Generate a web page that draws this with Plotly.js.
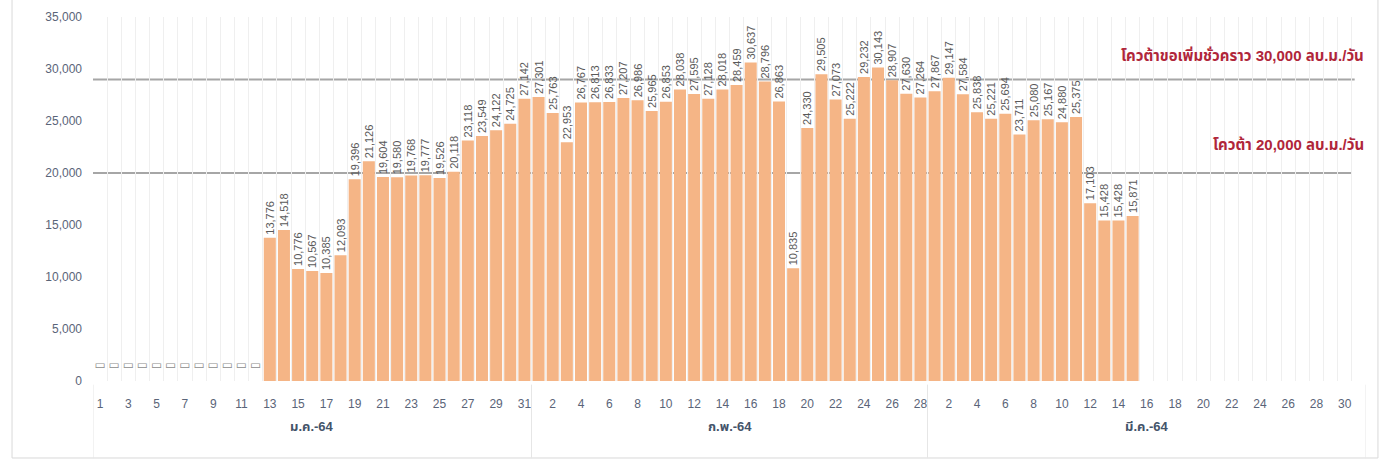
<!DOCTYPE html>
<html>
<head>
<meta charset="utf-8">
<script src="https://cdn.plot.ly/plotly-3.0.1.min.js"></script>
<style>html,body{margin:0;padding:0;background:#fff;}#chart{width:1383px;height:462px;}</style>
</head>
<body>
<div id="chart"></div>
<script>
// ---- data ----
const months = ['ม.ค.-64', 'ก.พ.-64', 'มี.ค.-64'];
const monthDays = [31, 28, 31];
const janValues = [null, null, null, null, null, null, null, null, null, null, null, null,
  13776, 14518, 10776, 10567, 10385, 12093, 19396, 21126, 19604, 19580, 19768, 19777,
  19526, 20118, 23118, 23549, 24122, 24725, 27142];
const febValues = [27301, 25763, 22953, 26767, 26813, 26833, 27207, 26986, 25965, 26853,
  28038, 27595, 27128, 28018, 28459, 30637, 28796, 26863, 10835, 24330, 29505, 27073,
  25222, 29232, 30143, 28907, 27630, 27264];
const marValues = [27867, 29147, 27584, 25838, 25221, 25694, 23711, 25080, 25167, 24880,
  25375, 17103, 15428, 15428, 15871, null, null, null, null, null, null, null, null, null,
  null, null, null, null, null, null, null];
const emptyDays = 12;            // ม.ค. 1-12 : no data (placeholder boxes)
const emptyMarkerValue = 1400;
const quotaTempValue = 29000;    // line drawn for "โควต้าขอเพิ่มชั่วคราว 30,000"
const quotaValue = 20000;
const quotaTempLabel = 'โควต้าขอเพิ่มชั่วคราว 30,000 ลบ.ม./วัน';
const quotaLabel = 'โควต้า 20,000 ลบ.ม./วัน';
const yTicks = [0, 5000, 10000, 15000, 20000, 25000, 30000, 35000];

// ---- build ----
const values = janValues.concat(febValues, marValues);
const x = [], dayLabels = [], tickText = [];
let idx = 0;
monthDays.forEach((n) => {
  for (let d = 1; d <= n; d++) {
    idx++;
    x.push(idx);
    dayLabels.push(String(d));
    tickText.push(idx % 2 === 1 ? String(d) : '');
  }
});
const N = x.length;
const fmt = v => v == null ? '' : v.toLocaleString('en-US');

const fontFam = 'Liberation Sans, Noto Sans Thai, Noto Sans, sans-serif';

const bars = {
  type: 'bar', x: x, y: values,
  marker: {color: '#f5b586', line: {width: 0}},
  text: values.map(fmt), textposition: 'outside', textangle: -90,
  textfont: {size: 11, color: '#595959', family: fontFam},
  constraintext: 'none', cliponaxis: false, hoverinfo: 'x+y'
};
const emptyX = x.slice(0, emptyDays);
const emptyBoxes = {
  type: 'scatter', mode: 'text', x: emptyX, y: emptyX.map(() => emptyMarkerValue),
  text: emptyX.map(() => '▭'), textfont: {size: 12, color: '#8c8c8c', family: 'DejaVu Sans'},
  hoverinfo: 'skip'
};

// month groups
const annotations = [];
const shapes = [];
// quota lines (drawn below the bars and labels)
shapes.push({type: 'line', xref: 'x', yref: 'y', x0: 0.5, x1: N - 0.3, y0: quotaTempValue, y1: quotaTempValue,
  line: {color: '#a6a6a6', width: 2}, layer: 'below'});
shapes.push({type: 'line', xref: 'x', yref: 'y', x0: 0.5, x1: N - 0.5, y0: quotaValue, y1: quotaValue,
  line: {color: '#a6a6a6', width: 2}, layer: 'below'});
let start = 0.5;
months.forEach((m, i) => {
  const end = start + monthDays[i];
  annotations.push({
    x: (start + end) / 2, xref: 'x', y: -0.151, yref: 'paper', text: '<b>' + m + '</b>', showarrow: false,
    font: {size: 13, color: '#44546a', family: fontFam}
  });
  shapes.push({type: 'line', xref: 'x', yref: 'paper', x0: start, x1: start, y0: -0.01, y1: -0.212,
    line: {color: '#e6e6e6', width: 1}});
  start = end;
});
shapes.push({type: 'line', xref: 'x', yref: 'paper', x0: start, x1: start, y0: -0.01, y1: -0.212,
  line: {color: '#e6e6e6', width: 1}});
// chart frame
shapes.push({type: 'rect', xref: 'paper', yref: 'paper', x0: -0.0636, x1: 1.0094, y0: -0.2115, y1: 1.2,
  line: {color: '#d9d9d9', width: 1}, layer: 'below'});

annotations.push({
  x: N + 0.5, xref: 'x', y: 31350, yref: 'y', xanchor: 'right', text: '<b>' + quotaTempLabel + '</b>', showarrow: false,
  font: {size: 15, color: '#b0263a', family: fontFam}
});
annotations.push({
  x: N + 0.5, xref: 'x', y: 22700, yref: 'y', xanchor: 'right', text: '<b>' + quotaLabel + '</b>', showarrow: false,
  font: {size: 15, color: '#b0263a', family: fontFam}
});

const layout = {
  width: 1383, height: 462,
  margin: {l: 93, r: 17, t: 17, b: 81},
  paper_bgcolor: '#ffffff', plot_bgcolor: '#ffffff',
  showlegend: false, bargap: 0.15,
  font: {family: fontFam},
  xaxis: {
    range: [0.5, N + 0.5], tickvals: x, ticktext: tickText, tickangle: 0,
    showgrid: false, zeroline: false, showline: false, ticks: '',
    ticklabelstandoff: 14,
    tickfont: {size: 12, color: '#5a6478', family: fontFam},
    minor: {tick0: 0.5, dtick: 1, showgrid: true, gridcolor: '#efefef', gridwidth: 1}
  },
  yaxis: {
    range: [0, 35000], tickvals: yTicks, ticktext: yTicks.map(v => v.toLocaleString('en-US')),
    showgrid: false, zeroline: false, showline: false, ticks: '',
    ticklabelstandoff: 10,
    tickfont: {size: 12, color: '#5a6478', family: fontFam}
  },
  annotations: annotations,
  shapes: shapes
};

Plotly.newPlot('chart', [bars, emptyBoxes], layout, {displayModeBar: false, staticPlot: true});
</script>
</body>
</html>
